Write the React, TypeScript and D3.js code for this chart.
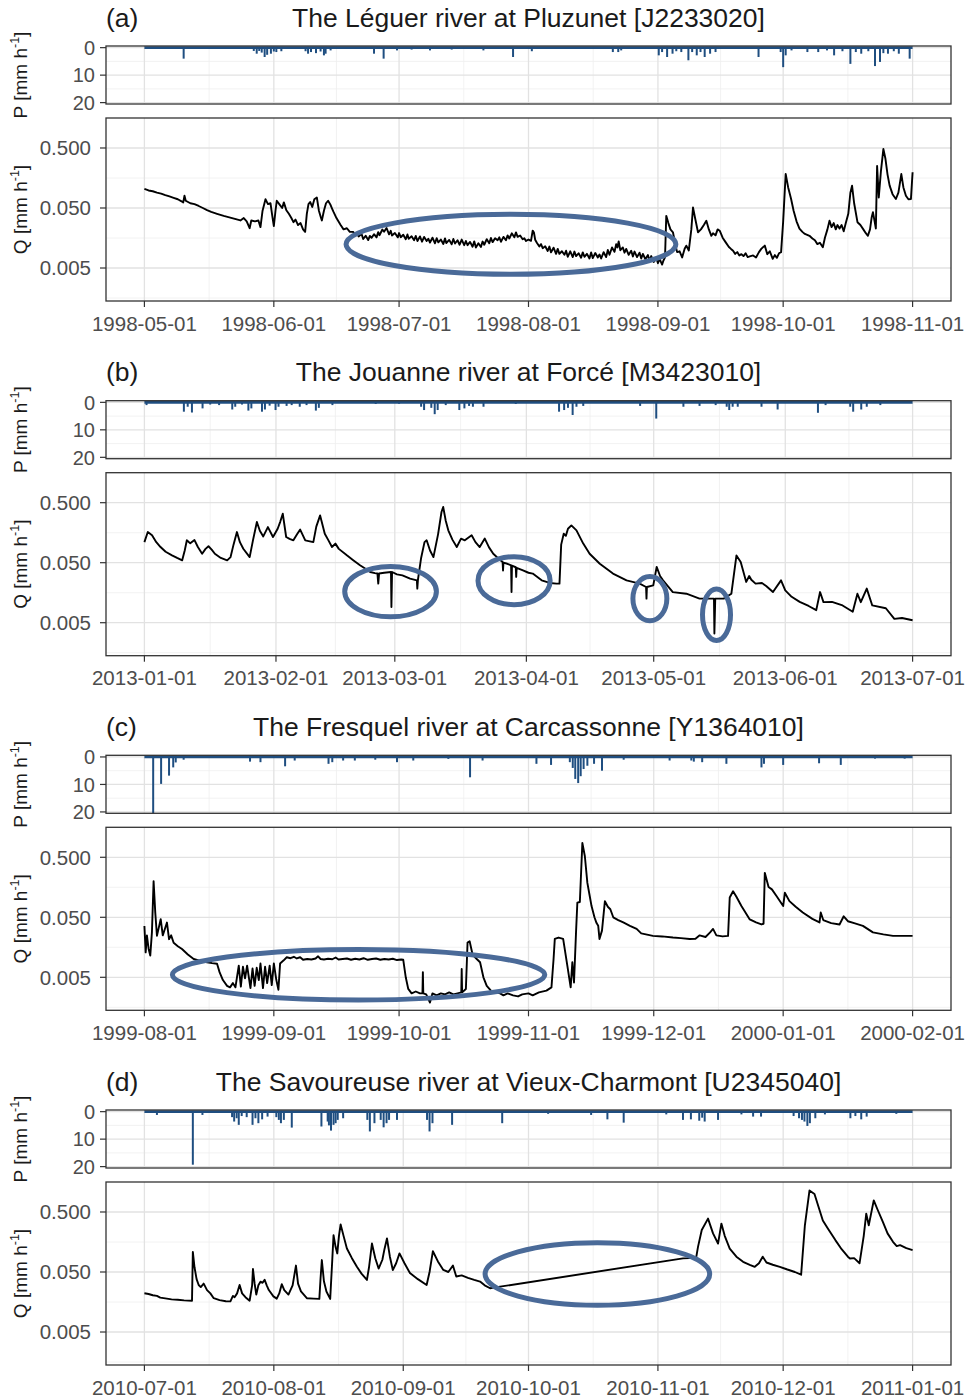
import * as d3 from 'd3';

// panel titles, periods
const tags = ['(a)', '(b)', '(c)', '(d)'];
const titles = [
  'The Léguer river at Pluzunet [J2233020]',
  'The Jouanne river at Forcé [M3423010]',
  'The Fresquel river at Carcassonne [Y1364010]',
  'The Savoureuse river at Vieux-Charmont [U2345040]',
];
const startDates = ['1998-05-01', '2013-01-01', '1999-08-01', '2010-07-01'];
const endDates = ['1998-11-01', '2013-07-01', '2000-02-01', '2011-01-01'];

const qTicks = [0.005, 0.05, 0.5];
const pTicks = [0, 10, 20];

// discharge Q [mm/h] as [day since start, value]
const qA: [number, number][] = [
  [0, 0.104], [1, 0.098], [2, 0.095], [3, 0.09], [4, 0.087], [5, 0.082], [6, 0.078], [7, 0.074], [8, 0.07], [9, 0.064],
  [9.3, 0.062], [9.6, 0.08], [9.9, 0.066], [11, 0.06], [12, 0.058], [13, 0.054], [14, 0.05], [15, 0.046], [16, 0.043],
  [17.4, 0.04], [19, 0.037], [21, 0.034], [23, 0.031], [23.8, 0.034], [24.5, 0.03], [25.2, 0.023], [25.6, 0.031],
  [26.5, 0.03], [27.3, 0.031], [27.8, 0.024], [28.3, 0.045], [29, 0.07], [29.6, 0.058], [30.2, 0.06], [30.6, 0.038],
  [31, 0.025], [31.4, 0.045], [31.7, 0.066], [32.3, 0.058], [33, 0.05], [33.4, 0.062], [34, 0.046], [34.6, 0.04],
  [35.2, 0.034], [35.7, 0.029], [36.2, 0.032], [36.8, 0.026], [37.4, 0.028], [38, 0.022], [38.5, 0.02], [38.9, 0.04],
  [39.3, 0.058], [39.7, 0.063], [40.2, 0.052], [40.7, 0.07], [41.3, 0.075], [41.8, 0.045], [42.2, 0.036], [42.5, 0.031],
  [43, 0.045], [43.5, 0.06], [44, 0.066], [44.5, 0.058], [45, 0.048], [45.3, 0.043], [46, 0.034], [47, 0.026],
  [47.7, 0.022], [48.5, 0.023], [49.2, 0.02], [50, 0.02],
  [50.5, 0.0178], [51, 0.0192], [51.3, 0.0168], [52, 0.0186], [52.4, 0.0152], [53, 0.0172], [53.6, 0.0146], [54, 0.0171],
  [54.4, 0.0159], [55, 0.0183], [55.6, 0.0162], [56, 0.0198], [56.3, 0.0176], [57, 0.0219], [57.4, 0.0201], [58, 0.0232],
  [58.6, 0.0182], [59, 0.0208], [59.3, 0.0174], [60, 0.0191], [60.7, 0.0162], [61, 0.0191], [61.4, 0.0163], [62, 0.0179],
  [62.6, 0.0151], [63, 0.0181], [63.3, 0.0153], [64, 0.0169], [64.6, 0.0145], [65, 0.0171], [65.4, 0.0141], [66, 0.0168],
  [66.5, 0.0137], [67, 0.0165], [67.6, 0.0141], [68, 0.0154], [68.4, 0.0133], [69, 0.016], [69.6, 0.0129], [70, 0.0157],
  [70.4, 0.0134], [71, 0.0149], [71.6, 0.0126], [72, 0.0156], [72.3, 0.013], [73, 0.0147], [73.6, 0.0124], [74, 0.0152],
  [74.4, 0.0128], [75, 0.0145], [75.5, 0.0122], [76, 0.0149], [76.6, 0.012], [77, 0.0141], [77.4, 0.012], [78, 0.0136],
  [78.6, 0.0113], [79, 0.0139], [79.4, 0.011], [80, 0.0129], [80.6, 0.0112], [81, 0.0138], [81.4, 0.0122], [82, 0.0151],
  [82.6, 0.0129], [83, 0.0158], [83.4, 0.0135], [84, 0.0157], [84.6, 0.0145], [85, 0.0162], [85.4, 0.0137], [86, 0.0165],
  [86.6, 0.0145], [87, 0.0175], [87.4, 0.0155], [88, 0.0189], [88.6, 0.0162], [89, 0.0196], [89.4, 0.0165], [90, 0.0174],
  [90.6, 0.0151], [91, 0.0157], [91.4, 0.0141], [92, 0.0149], [92.6, 0.0142], [93, 0.021], [93.3, 0.0195], [93.6, 0.0148],
  [94, 0.0132], [94.6, 0.0114], [95, 0.0125], [95.4, 0.0107], [96, 0.0115], [96.6, 0.0096], [97, 0.0114], [97.4, 0.0091],
  [98, 0.0109], [98.6, 0.0086], [99, 0.0104], [99.4, 0.0086], [100, 0.0095], [100.6, 0.0083], [101, 0.0097], [101.4, 0.0077],
  [102, 0.0095], [102.6, 0.0076], [103, 0.0094], [103.4, 0.0079], [104, 0.0088], [104.6, 0.0074], [105, 0.0091], [105.4, 0.0077],
  [106, 0.0086], [106.6, 0.0072], [107, 0.0091], [107.4, 0.0073], [108, 0.0089], [108.6, 0.0075], [109, 0.0084], [109.4, 0.0072],
  [110, 0.0092], [110.6, 0.0076], [111, 0.01], [111.4, 0.0083], [112, 0.011], [112.6, 0.0093], [113, 0.0125], [113.3, 0.011],
  [113.6, 0.0138], [114, 0.0099], [114.6, 0.011], [115, 0.009], [115.4, 0.0104], [116, 0.0083], [116.6, 0.0097], [117, 0.0078],
  [117.4, 0.0094], [118, 0.0076], [118.6, 0.009], [119, 0.0072], [119.4, 0.0086], [120, 0.007], [120.6, 0.0082], [121, 0.0066],
  [121.4, 0.0079], [122, 0.0063], [122.6, 0.0075], [123, 0.006], [123.4, 0.0071], [124, 0.0057], [124.3, 0.0066], [124.7, 0.0075],
  [125, 0.037], [125.5, 0.028], [126, 0.022], [126.6, 0.0197], [127.2, 0.012], [127.6, 0.0092], [128.2, 0.0095], [128.8, 0.0075],
  [129.4, 0.0105], [129.8, 0.0118], [130.4, 0.0098], [131, 0.022], [131.4, 0.051], [131.9, 0.034], [132.6, 0.0197], [133.3, 0.022],
  [134, 0.026], [134.6, 0.0307], [135.2, 0.022], [135.8, 0.0172], [136.2, 0.019], [136.8, 0.0175], [137.3, 0.022], [137.8, 0.0209],
  [138.5, 0.016], [139.2, 0.0135], [140, 0.0112], [140.5, 0.0104], [141, 0.0097], [141.5, 0.0086], [142, 0.0092], [142.5, 0.0081],
  [143, 0.0085], [143.5, 0.0079], [144, 0.0088], [144.5, 0.0076], [145, 0.0078], [145.8, 0.0081], [146.5, 0.0075],
  [147.2, 0.0092], [147.8, 0.0105], [148.6, 0.0118], [149.2, 0.0085], [149.8, 0.0095], [150.5, 0.0071], [151, 0.0082],
  [151.5, 0.0074], [152, 0.0088], [152.5, 0.0092], [153, 0.03], [153.6, 0.184], [154.2, 0.11],
  [154.9, 0.0706], [155.5, 0.045], [156.2, 0.03], [156.9, 0.0227], [157.6, 0.02], [158.2, 0.0185], [159.3, 0.0172], [160, 0.0155],
  [160.6, 0.0145], [161.2, 0.0125], [161.8, 0.0132], [162.5, 0.0111], [163, 0.016], [163.6, 0.022], [164.1, 0.0307], [164.6, 0.024],
  [165.1, 0.028], [165.6, 0.022], [166, 0.026], [166.5, 0.0227], [167, 0.026], [167.5, 0.0205], [168, 0.028], [168.6, 0.04],
  [169.1, 0.09], [169.5, 0.118], [170, 0.06], [170.8, 0.029], [171.5, 0.026], [172.2, 0.022], [172.8, 0.019], [173.3, 0.0172],
  [173.8, 0.022], [174.2, 0.035], [174.5, 0.0424], [174.9, 0.03], [175.2, 0.0227], [175.5, 0.25], [175.9, 0.075], [176.4, 0.2],
  [177, 0.48], [177.5, 0.33], [178, 0.18], [178.5, 0.118], [179.2, 0.085], [180, 0.0706], [180.6, 0.09], [181.3, 0.184],
  [181.8, 0.11], [182.4, 0.08], [183, 0.07], [183.6, 0.0706], [184, 0.197],
];

const qB: [number, number][] = [
  [0, 0.11], [0.8, 0.162], [1.8, 0.143], [2.8, 0.11], [3.8, 0.0912], [5, 0.076], [6.5, 0.0663], [7.7, 0.06], [8.9, 0.0547],
  [9.5, 0.08], [10, 0.118], [10.8, 0.105], [11.8, 0.119], [12.6, 0.0912], [13.6, 0.0706], [14.4, 0.085], [15.1, 0.094],
  [15.9, 0.082], [16.6, 0.0706], [18, 0.06], [19.5, 0.0547], [20.3, 0.062], [21, 0.1], [21.8, 0.162], [22.5, 0.11],
  [23.3, 0.0853], [24.8, 0.062], [25.6, 0.12], [26.5, 0.238], [27.2, 0.17], [28, 0.137], [29.1, 0.196], [30.3, 0.134],
  [31.4, 0.184], [32, 0.24], [32.6, 0.328], [33.4, 0.134], [34.2, 0.125], [35.1, 0.118], [36, 0.15], [36.7, 0.178],
  [37.9, 0.118], [39.8, 0.11], [40.5, 0.2], [41.4, 0.307], [42.5, 0.152], [43.3, 0.12], [44.2, 0.0912], [45, 0.104],
  [45.8, 0.085], [47.7, 0.0663], [49.2, 0.055], [50.8, 0.0453], [52, 0.04], [53.2, 0.035], [54.3, 0.0335], [54.9, 0.033],
  [55.1, 0.0224], [55.3, 0.033], [56.5, 0.034], [58.1, 0.035], [58.2, 0.0091], [58.35, 0.035], [59.5, 0.032], [60.8, 0.0307],
  [62.6, 0.0271], [64.2, 0.0254], [64.3, 0.0185], [64.45, 0.026], [65.2, 0.06], [66, 0.11], [66.5, 0.118], [67.3, 0.08],
  [68.1, 0.062], [69.2, 0.15], [70, 0.35], [70.4, 0.424], [71, 0.25], [71.6, 0.173], [72.6, 0.12], [73.6, 0.0912],
  [74.6, 0.126], [75.5, 0.118], [76.3, 0.13], [77.1, 0.143], [78, 0.11], [79, 0.0912], [80.2, 0.126], [81.2, 0.09],
  [82.2, 0.0706], [83.5, 0.058], [84.4, 0.0512], [84.5, 0.037], [84.6, 0.05], [85.5, 0.048], [86.4, 0.0453], [86.5, 0.0162],
  [86.6, 0.0445], [87.5, 0.042], [87.6, 0.029], [87.7, 0.041], [89.2, 0.0371], [90.5, 0.034], [91.5, 0.0329], [93.6, 0.0254],
  [95.5, 0.023], [97.1, 0.0224], [97.8, 0.0224], [98.2, 0.1], [98.8, 0.152], [99.3, 0.14], [99.8, 0.184], [100.6, 0.209],
  [101.8, 0.173], [103.4, 0.104], [104.9, 0.0706], [107.3, 0.048], [110.4, 0.0329], [113.6, 0.0254], [116.7, 0.0224],
  [118.2, 0.0197], [118.3, 0.0126], [118.4, 0.0197], [119.9, 0.0209], [120.7, 0.0425], [121.5, 0.03], [122.2, 0.0254],
  [124.5, 0.0162], [127.7, 0.0152], [130.8, 0.0126], [134.2, 0.0126], [134.3, 0.0033], [134.5, 0.0126], [136.5, 0.0126],
  [138.3, 0.0152], [139.5, 0.066], [140.5, 0.0512], [141.8, 0.0239], [142.5, 0.03], [143, 0.026], [144, 0.0224],
  [145.5, 0.023], [146.5, 0.0205], [148.1, 0.0162], [150, 0.0254], [151, 0.0173], [152.5, 0.0135], [154.4, 0.0111],
  [156.5, 0.0095], [158.3, 0.0081], [159.2, 0.0162], [160, 0.011], [162, 0.0111], [164.5, 0.0097], [166.9, 0.0076],
  [168, 0.0152], [168.8, 0.011], [170.2, 0.0185], [171.5, 0.0097], [174.7, 0.0087], [176.7, 0.0058], [178.5, 0.006],
  [181, 0.0055],
];

const qC: [number, number][] = [
  [0, 0.0359], [0.3, 0.013], [0.6, 0.025], [1, 0.015], [1.4, 0.0115], [1.8, 0.028], [2.2, 0.2], [2.6, 0.06], [3, 0.0246],
  [3.5, 0.035], [3.9, 0.0464], [4.4, 0.025], [4.9, 0.032], [5.4, 0.0409], [5.9, 0.0216], [6.4, 0.025], [7, 0.0188],
  [8, 0.0165], [9, 0.0148], [10.4, 0.012], [11.8, 0.0101], [13.4, 0.0094], [15, 0.0089], [16.2, 0.0086], [17.4, 0.0084],
  [18, 0.0061], [18.8, 0.0045], [19.8, 0.0036], [20.5, 0.0034], [21.2, 0.004], [21.8, 0.0034], [22.6, 0.0078], [23.1, 0.0035],
  [23.6, 0.0075], [24.1, 0.0048], [24.6, 0.0078], [25.4, 0.0033], [25.9, 0.007], [26.4, 0.0036], [26.9, 0.0072], [27.4, 0.0045],
  [27.8, 0.0085], [28.4, 0.0033], [28.9, 0.0075], [29.4, 0.004], [30, 0.0078], [30.5, 0.0037], [31, 0.0085], [31.6, 0.0045],
  [32.1, 0.0031], [32.5, 0.0085], [33.3, 0.0095], [34.1, 0.0108], [35, 0.0104], [35.8, 0.011], [36.5, 0.0103], [37.3, 0.0108],
  [38, 0.0098], [39, 0.0101], [40, 0.0099], [41, 0.0103], [41.6, 0.0112], [42.2, 0.0101], [43, 0.0099], [44, 0.0102],
  [45, 0.01], [45.8, 0.0107], [46.5, 0.0099], [47.5, 0.0101], [48.5, 0.0103], [49.5, 0.0098], [50.5, 0.0102], [51.5, 0.0099],
  [52.5, 0.0104], [53.5, 0.0098], [54.5, 0.0101], [55.5, 0.0103], [56.5, 0.0098], [57.5, 0.0101], [58.5, 0.0099], [59.5, 0.0102],
  [60.5, 0.0097], [61.5, 0.0099], [62, 0.0098], [62.6, 0.005], [63.2, 0.0032], [64, 0.0027], [65, 0.0029], [66, 0.0027],
  [66.6, 0.0027], [66.7, 0.0061], [66.8, 0.0027], [67.5, 0.0026], [68.4, 0.0019], [69, 0.0027], [70, 0.0025], [71, 0.0027],
  [72, 0.0026], [73, 0.0028], [74, 0.0026], [75, 0.0027], [75.9, 0.0028], [76, 0.0069], [76.1, 0.0028], [77, 0.0032],
  [77.4, 0.019], [77.9, 0.02], [78.6, 0.012], [79.6, 0.0101], [80.4, 0.0089], [81.2, 0.005], [82, 0.0036], [83, 0.003],
  [84, 0.0028], [85.2, 0.0027], [86, 0.0025], [87, 0.0027], [88.3, 0.0025], [89.5, 0.0024], [90.5, 0.0026], [92, 0.0027],
  [93, 0.0025], [94.5, 0.0028], [96.3, 0.003], [97.5, 0.0034], [98, 0.01], [98.3, 0.0218], [99.2, 0.023], [100.3, 0.0218],
  [101.3, 0.0078], [102.1, 0.0034], [102.5, 0.0089], [102.9, 0.0041], [103.4, 0.03], [103.7, 0.0875], [104.3, 0.09],
  [104.9, 0.865], [105.5, 0.52], [106.1, 0.187], [106.6, 0.12], [107.1, 0.077], [107.8, 0.05], [108.3, 0.04], [108.7, 0.036],
  [109, 0.0218], [109.6, 0.03], [110.3, 0.093], [111, 0.075], [111.6, 0.068], [112.3, 0.05], [113.5, 0.045], [114.7, 0.041],
  [116.3, 0.036], [117.9, 0.032], [119, 0.027], [121.8, 0.0245], [124, 0.024], [126.6, 0.023], [128.5, 0.0225],
  [130.6, 0.0217], [132, 0.022], [133, 0.025], [134.4, 0.0235], [135.5, 0.028], [136.2, 0.032], [137, 0.025], [138.5, 0.024],
  [139.8, 0.0245], [140.2, 0.107], [141, 0.136], [141.8, 0.11], [143, 0.077], [145, 0.046], [146.5, 0.041], [147.8, 0.038],
  [148.3, 0.039], [148.6, 0.275], [149.5, 0.16], [150.3, 0.146], [151.4, 0.113], [153, 0.077], [153.4, 0.128], [154.5, 0.093],
  [156, 0.075], [157.7, 0.06], [160, 0.047], [161.7, 0.041], [162, 0.06], [162.6, 0.045], [164.5, 0.04], [166.5, 0.038],
  [167.5, 0.052], [168.5, 0.043], [170, 0.04], [172.1, 0.036], [174.5, 0.028], [177, 0.026], [179.3, 0.0245],
  [181.5, 0.0245], [184, 0.0245],
];

const qD: [number, number][] = [
  [0, 0.0221], [1, 0.0215], [2, 0.0205], [3, 0.02], [3.8, 0.0187], [5, 0.0182], [6.5, 0.0175], [8, 0.0172], [9.5, 0.0168],
  [11.4, 0.0166], [11.6, 0.108], [12, 0.06], [12.5, 0.038], [13, 0.0304], [13.5, 0.028], [14.2, 0.032], [15, 0.025],
  [15.8, 0.022], [16.6, 0.0183], [18, 0.017], [19.5, 0.0163], [20.6, 0.0162], [21.2, 0.02], [21.6, 0.019], [22.2, 0.022],
  [22.8, 0.0304], [23.4, 0.022], [24.2, 0.019], [25.2, 0.0166], [25.8, 0.03], [26, 0.056], [26.4, 0.032], [26.8, 0.021],
  [27.3, 0.03], [27.8, 0.0345], [28.3, 0.033], [28.8, 0.037], [29.3, 0.03], [29.8, 0.025], [30.9, 0.0196], [31.7, 0.018],
  [32.3, 0.022], [32.9, 0.0313], [33.5, 0.025], [34.5, 0.021], [35.5, 0.03], [36.3, 0.064], [36.8, 0.032], [37.5, 0.0237],
  [38.9, 0.0183], [40.5, 0.018], [41.9, 0.0178], [42.2, 0.04], [42.5, 0.079], [43, 0.035], [43.6, 0.0237], [44.5, 0.0178],
  [45, 0.08], [45.3, 0.205], [45.8, 0.13], [46.2, 0.102], [46.6, 0.2], [47, 0.31], [47.7, 0.2], [48.5, 0.123], [49.7, 0.085],
  [50.9, 0.061], [52, 0.047], [53.3, 0.0369], [53.8, 0.06], [54.5, 0.149], [55.3, 0.085], [56.1, 0.057], [57, 0.08],
  [57.5, 0.12], [58.1, 0.181], [58.8, 0.09], [59.5, 0.054], [60.3, 0.07], [61.1, 0.102], [62.3, 0.07], [63.6, 0.048],
  [65.5, 0.038], [67.6, 0.0303], [68.3, 0.05], [69.1, 0.111], [70.3, 0.075], [71.6, 0.054], [72.8, 0.05], [73.9, 0.064],
  [74.7, 0.042], [76, 0.044], [77.5, 0.04], [79, 0.037], [80.4, 0.0346], [81.5, 0.03], [82.8, 0.0268], [83.6, 0.0274],
  [129, 0.0843], [130.5, 0.085], [132.2, 0.09], [132.6, 0.131], [133.5, 0.25], [135, 0.388], [136.2, 0.22], [137.4, 0.149],
  [138.2, 0.32], [139, 0.2], [140.2, 0.123], [141.8, 0.09], [143.4, 0.074], [145, 0.066], [146.2, 0.061], [147.2, 0.07],
  [148.1, 0.09], [149, 0.072], [150.5, 0.066], [152.2, 0.061], [154, 0.055], [155.8, 0.05], [157.3, 0.045], [158.2, 0.3],
  [159.3, 1.14], [160.5, 1.0], [161.5, 0.6], [162.5, 0.36], [163.7, 0.265], [165.5, 0.17], [167, 0.12], [168.5, 0.09],
  [169, 0.084], [170, 0.085], [171.3, 0.07], [172.3, 0.2], [172.9, 0.47], [173.5, 0.3], [174.7, 0.78], [175.6, 0.55],
  [176.9, 0.34], [178, 0.22], [179.3, 0.159], [180.2, 0.135], [181, 0.14], [182.5, 0.125], [184, 0.116],
];

// precipitation P [mm/h] as [day since start, value]
const pA: [number, number][] = [
  [9.4, 4], [26.2, 1.2], [26.9, 2.2], [27.5, 1.2], [28.1, 1.8], [28.8, 3.4], [29.4, 2.6], [30.3, 2.2], [31, 1.4], [31.6, 1.6],
  [32.8, 1.3], [38.6, 1.3], [39.2, 2.2], [39.9, 1.6], [41.1, 2], [42.2, 1.4], [43, 2.8], [43.4, 2.2], [44.6, 1], [55, 2.2],
  [57.3, 4], [60.5, 1], [64, 0.7], [68.4, 1], [73.6, 0.7], [81.2, 1], [88.3, 3.4], [92.8, 1.3], [112.2, 1.6], [113.5, 1.6],
  [114.2, 1], [123.2, 2.8], [124, 1.6], [125.2, 3.4], [126.5, 2.2], [127.4, 1.3], [128.6, 1.6], [130.3, 4.6], [131.2, 1.6],
  [132.3, 2.8], [133.2, 1.6], [134.2, 3.4], [135.5, 2.2], [136.8, 1.6], [147.1, 3.4], [152.4, 1.6], [153, 7.1], [153.6, 2.8],
  [155, 1], [158.8, 1.6], [161.4, 1.6], [163.5, 1], [165.2, 2.8], [167.2, 1.3], [169.1, 5.9], [170.4, 1.6], [171.7, 2.2],
  [173.4, 1.3], [175, 6.7], [176.2, 5.2], [177, 2], [178.1, 2.2], [179.5, 1.3], [180.7, 2.2], [183.3, 4],
];
const pB: [number, number][] = [
  [0.5, 1], [9.3, 3.4], [10.2, 1.6], [11.2, 3.7], [13.7, 2.2], [15.5, 0.8], [17.6, 1], [20.7, 2.6], [21.4, 1.6], [23, 0.8],
  [24.5, 3], [25.2, 2.2], [27.7, 3.4], [28.4, 2.6], [29.5, 1.2], [30.9, 2.8], [31.6, 1.6], [33.5, 1.3], [34.7, 1], [36.6, 1.6],
  [38.2, 1], [40.4, 3], [41.1, 2], [44.3, 1], [54.5, 0.6], [60, 0.5], [65.2, 1.6], [65.9, 2.8], [67.6, 2], [68.4, 4.3],
  [69.1, 2.8], [71, 1], [74.2, 2.8], [75.4, 2.2], [76.5, 1.3], [77.4, 1.6], [79.9, 1.6], [87.5, 0.6], [97.7, 3.4], [98.9, 2.8],
  [99.8, 2], [100.9, 4.6], [101.8, 1.6], [103.4, 1.3], [116.8, 1.3], [120.6, 5.9], [127, 1.6], [130.8, 1.3], [134.6, 1],
  [137.2, 1.6], [137.8, 2.8], [138.6, 1.6], [139.8, 1.6], [145.4, 1.6], [149.2, 2.6], [158.7, 3.8], [160.5, 1], [166.3, 1.6],
  [167, 3.4], [168.9, 2.6], [170.2, 1.6], [173.4, 1],
];
const pC: [number, number][] = [
  [2.1, 20.5], [4, 9.8], [5.9, 6.8], [6.9, 3.8], [7.5, 2], [9.4, 1], [25.3, 1.7], [27.8, 1.9], [33.7, 3.4], [36, 1.3],
  [44.1, 2.5], [45, 1.9], [47.6, 1.3], [50.4, 1.3], [55.3, 1], [60.5, 1.9], [64.4, 1.3], [72.8, 0.7], [78, 7.4], [81, 1.3],
  [93.9, 2.5], [97.4, 2.9], [101.9, 1.9], [102.6, 4], [103.2, 8], [103.9, 9.5], [104.5, 7], [105.2, 4.4], [106.1, 3.2],
  [107.7, 2.5], [109.6, 5], [114.8, 1], [125.8, 1.3], [131, 1.3], [131.6, 1.7], [133.6, 1.9], [139.4, 2.5], [147.8, 3.8],
  [148.4, 2.5], [153, 2.9], [161.6, 2.3], [166.8, 2.9], [175, 0.6], [182.1, 0.6],
];
const pD: [number, number][] = [
  [3, 1.2], [11.6, 19.3], [13.9, 1.2], [21, 2], [21.5, 3.6], [22.1, 2.4], [22.6, 4.8], [23.3, 1.6], [24.5, 2], [25.9, 4.8],
  [26.6, 2.4], [27.3, 4.2], [28.2, 2.8], [29.5, 1.8], [31.6, 2], [32.2, 3], [32.7, 4.2], [33.4, 3], [35.3, 5.8], [42.4, 5.4],
  [43.9, 3.6], [44.2, 5], [44.7, 6.9], [45.3, 4.8], [45.8, 4.2], [46.3, 3], [47.6, 2.4], [53.4, 3], [54, 7.2], [55.1, 4.2],
  [56.6, 3], [57.3, 5.7], [58, 4.2], [58.6, 3], [60.5, 3], [67.7, 3], [68.3, 7.2], [69, 4.2], [73.7, 4.8], [85.7, 4.2],
  [96.7, 0.8], [107, 1.2], [110.9, 2.8], [114.8, 4], [125, 1], [129, 3], [130.9, 2.8], [132.9, 3.3], [133.6, 2.2],
  [134.2, 3.6], [137.4, 3], [143, 1], [145.8, 1.8], [147.7, 1.8], [155.5, 1.6], [156.8, 2.4], [157.5, 3], [158.1, 3.6],
  [158.8, 5.2], [159.4, 4.2], [160.7, 2.4], [163, 1], [169.1, 2.4], [170.3, 1.6], [171.7, 2.8], [173, 1.8], [180.1, 0.8],
];

// highlighted stretches: centre (day, Q), half width in days, half height in decades
const ringsA = [{ day: 87.8, q: 0.0124, rx: 39.5, ry: 0.5 }];
const ringsB = [
  { day: 58, q: 0.0165, rx: 10.8, ry: 0.42 },
  { day: 87.1, q: 0.0251, rx: 8.5, ry: 0.4 },
  { day: 119.1, q: 0.0126, rx: 4, ry: 0.37 },
  { day: 134.8, q: 0.0068, rx: 3.3, ry: 0.43 },
];
const ringsC = [{ day: 51.3, q: 0.0055, rx: 44.6, ry: 0.42 }];
const ringsD = [{ day: 108.5, q: 0.0463, rx: 26.9, ry: 0.52 }];

const qSeries = [qA, qB, qC, qD];
const pSeries = [pA, pB, pC, pD];
const rings = [ringsA, ringsB, ringsC, ringsD];

const W = 969;
const H = 1400;
const panelTops = [0, 354.7, 709.3, 1064];
const boxL = 106;
const boxR = 951;
const pTop = 46;
const pBot = 104;
const qTop = 118;
const qBot = 301;

const FONT = "'Liberation Sans', Arial, Helvetica, sans-serif";
const DAY = 86400000;
const rainColor = '#1f4e80';
const ringColor = '#4a6a98';
const gridMajor = '#e2e2e2';
const gridMinor = '#efefef';
const frame = '#333333';
const tickText = '#4d4d4d';

function Panel({ k }: { k: number }) {
  const top = panelTops[k];
  const t0 = new Date(startDates[k] + 'T00:00:00Z');
  const t1 = new Date(endDates[k] + 'T00:00:00Z');
  const span = (+t1 - +t0);
  const x = d3.scaleUtc()
    .domain([new Date(+t0 - span * 0.05), new Date(+t1 + span * 0.05)])
    .range([boxL, boxR]);
  const toDate = (d: number) => new Date(+t0 + d * DAY);

  const yP = d3.scaleLinear().domain([-0.6, 20.5]).range([top + pTop, top + pBot]);
  const yQ = d3.scaleLog().domain([0.00141, 1.58]).range([top + qBot, top + qTop]);

  const months = d3.utcMonth.range(t0, new Date(+t1 + 1));
  const midMonths = months.slice(0, -1).map((m, i) => new Date((+m + +months[i + 1]) / 2));
  const fmt = d3.utcFormat('%Y-%m-%d');

  const qMinor = [0.00158, 0.0158, 0.158].filter(v => v > 0.00141 && v < 1.58);
  const pMinor = [5, 15];

  const line = d3.line<[number, number]>()
    .x(d => x(toDate(d[0])))
    .y(d => yQ(d[1]));

  const clipId = `qclip${k}`;
  const decadePx = yQ(0.05) - yQ(0.5);

  return (
    <g>
      <defs>
        <clipPath id={clipId}>
          <rect x={boxL} y={top + qTop} width={boxR - boxL} height={qBot - qTop} />
        </clipPath>
      </defs>

      {/* titles */}
      <text x={boxL} y={top + 26.5} fontSize={26.5} fill="#1a1a1a">{tags[k]}</text>
      <text x={(boxL + boxR) / 2} y={top + 26.5} fontSize={26.5} fill="#1a1a1a" textAnchor="middle">{titles[k]}</text>

      {/* P panel */}
      <rect x={boxL} y={top + pTop} width={boxR - boxL} height={pBot - pTop} fill="#fff" />
      {pMinor.map(v => (
        <line key={'pm' + v} x1={boxL} x2={boxR} y1={yP(v)} y2={yP(v)} stroke={gridMinor} strokeWidth={0.8} />
      ))}
      {midMonths.map((m, i) => (
        <line key={'pxm' + i} x1={x(m)} x2={x(m)} y1={top + pTop} y2={top + pBot} stroke={gridMinor} strokeWidth={0.8} />
      ))}
      {pTicks.map(v => (
        <line key={'pg' + v} x1={boxL} x2={boxR} y1={yP(v)} y2={yP(v)} stroke={gridMajor} strokeWidth={1.3} />
      ))}
      {months.map((m, i) => (
        <line key={'pxg' + i} x1={x(m)} x2={x(m)} y1={top + pTop} y2={top + pBot} stroke={gridMajor} strokeWidth={1.3} />
      ))}
      <line x1={x(t0)} x2={x(t1)} y1={yP(0)} y2={yP(0)} stroke={rainColor} strokeWidth={2.8} />
      {pSeries[k].map((d, i) => (
        <line key={'pb' + i} x1={x(toDate(d[0]))} x2={x(toDate(d[0]))} y1={yP(0)} y2={yP(d[1])}
          stroke={rainColor} strokeWidth={2} />
      ))}
      <rect x={boxL} y={top + pTop} width={boxR - boxL} height={pBot - pTop} fill="none" stroke={frame} strokeWidth={1.3} />
      {pTicks.map(v => (
        <g key={'pt' + v}>
          <line x1={boxL - 6} x2={boxL} y1={yP(v)} y2={yP(v)} stroke={frame} strokeWidth={1.2} />
          <text x={boxL - 11} y={yP(v)} dy="0.36em" textAnchor="end" fontSize={20} fill={tickText}>{v}</text>
        </g>
      ))}
      <text transform={`translate(26.5,${top + (pTop + pBot) / 2}) rotate(-90)`} textAnchor="middle" fontSize={19} fill="#1a1a1a">
        P [mm  h<tspan dy={-7.5} fontSize={12.5}>-1</tspan><tspan dy={7.5}>]</tspan>
      </text>

      {/* Q panel */}
      <rect x={boxL} y={top + qTop} width={boxR - boxL} height={qBot - qTop} fill="#fff" />
      {qMinor.map(v => (
        <line key={'qm' + v} x1={boxL} x2={boxR} y1={yQ(v)} y2={yQ(v)} stroke={gridMinor} strokeWidth={0.8} />
      ))}
      {midMonths.map((m, i) => (
        <line key={'qxm' + i} x1={x(m)} x2={x(m)} y1={top + qTop} y2={top + qBot} stroke={gridMinor} strokeWidth={0.8} />
      ))}
      {qTicks.map(v => (
        <line key={'qg' + v} x1={boxL} x2={boxR} y1={yQ(v)} y2={yQ(v)} stroke={gridMajor} strokeWidth={1.3} />
      ))}
      {months.map((m, i) => (
        <line key={'qxg' + i} x1={x(m)} x2={x(m)} y1={top + qTop} y2={top + qBot} stroke={gridMajor} strokeWidth={1.3} />
      ))}
      <g clipPath={`url(#${clipId})`}>
        <path d={line(qSeries[k]) || ''} fill="none" stroke="#000" strokeWidth={1.9} strokeLinejoin="round" />
        {rings[k].map((r, i) => {
          const cx = x(toDate(r.day));
          const cy = yQ(r.q);
          const rx = x(toDate(r.day + r.rx)) - cx;
          const ry = r.ry * decadePx;
          return <ellipse key={'r' + i} cx={cx} cy={cy} rx={rx} ry={ry} fill="none" stroke={ringColor} strokeWidth={5} />;
        })}
      </g>
      <rect x={boxL} y={top + qTop} width={boxR - boxL} height={qBot - qTop} fill="none" stroke={frame} strokeWidth={1.3} />
      {qTicks.map(v => (
        <g key={'qt' + v}>
          <line x1={boxL - 6} x2={boxL} y1={yQ(v)} y2={yQ(v)} stroke={frame} strokeWidth={1.2} />
          <text x={boxL - 15} y={yQ(v)} dy="0.36em" textAnchor="end" fontSize={20.5} fill={tickText}>{d3.format('.3f')(v)}</text>
        </g>
      ))}
      {months.map((m, i) => (
        <g key={'xt' + i}>
          <line x1={x(m)} x2={x(m)} y1={top + qBot} y2={top + qBot + 6} stroke={frame} strokeWidth={1.2} />
          <text x={x(m)} y={top + qBot + 29.5} textAnchor="middle" fontSize={20.5} fill={tickText}>{fmt(m)}</text>
        </g>
      ))}
      <text transform={`translate(26.5,${top + (qTop + qBot) / 2}) rotate(-90)`} textAnchor="middle" fontSize={19} fill="#1a1a1a">
        Q [mm  h<tspan dy={-7.5} fontSize={12.5}>-1</tspan><tspan dy={7.5}>]</tspan>
      </text>
    </g>
  );
}

export default function App() {
  return (
    <svg width={W} height={H} viewBox={`0 0 ${W} ${H}`}
      style={{ position: 'absolute', left: 0, top: 0, background: '#fff', fontFamily: FONT }}>
      <rect width={W} height={H} fill="#fff" />
      {[0, 1, 2, 3].map(k => <Panel key={k} k={k} />)}
    </svg>
  );
}
